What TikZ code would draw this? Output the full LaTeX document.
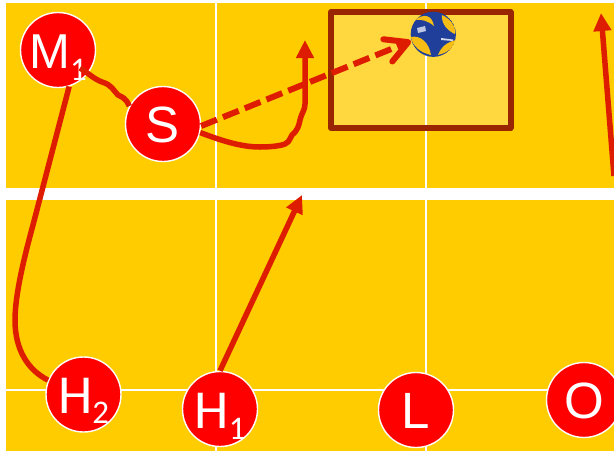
\documentclass[tikz,border=0pt]{standalone}
\usepackage{fontspec}
\setmainfont{Liberation Sans}
\newfontfamily\calib{Carlito}
\usetikzlibrary{arrows.meta}
\definecolor{court}{HTML}{FFCC00}
\definecolor{zone}{HTML}{FFD83F}
\definecolor{zoneedge}{HTML}{992600}
\definecolor{runred}{HTML}{DD1C00}
\definecolor{ballblue}{HTML}{1F3F9A}
\definecolor{ballyellow}{HTML}{F6BE14}
\newcommand{\plainlab}[2]{\raisebox{-#2pt}{\fontsize{51}{51}\selectfont #1}}
\newcommand{\mlab}[3]{\raisebox{-#2pt}{\fontsize{49}{49}\selectfont #1\raisebox{-#3pt}{\calib\fontsize{33}{33}\selectfont 1}}}
\tikzset{
  player/.style={circle,draw=white,line width=1.4pt,fill=red,text=white,minimum size=75pt,inner sep=0pt,text height=0pt,text depth=0pt},
  run/.style={draw=runred,line width=5.5pt,line join=round},
  runarrow/.style={run,-{Triangle[length=18pt,width=17pt]}},
  gridline/.style={draw=white,line width=1.8pt},
  pass/.style={draw=runred,line width=6pt,dash pattern=on 17pt off 6.5pt,-{Straight Barb[length=22pt,width=24pt,line cap=round,round]}}
}
\begin{document}
\begin{tikzpicture}[x=1pt,y=-1pt]
\useasboundingbox (0,0) rectangle (614,451);
\fill[white] (0,0) rectangle (614,451);
\fill[court] (6,3) rectangle (614,188);
\fill[court] (6,200) rectangle (614,451);
\draw[gridline] (216,3) -- (216,188);
\draw[gridline] (426,3) -- (426,188);
\draw[gridline] (216,200) -- (216,451);
\draw[gridline] (426,200) -- (426,451);
\draw[gridline] (6,390) -- (614,390);
% zone
\draw[draw=zoneedge,fill=zone,line width=6pt,line join=round] (331,12) rectangle (510.5,128);
\draw[gridline] (426,15) -- (426,125);
% ball
\begin{scope}
\clip (433.3,34.3) circle (22.6pt);
\fill[ballblue] (433.3,34.3) circle (22.6pt);
\fill[ballyellow] (415,20) .. controls (424,13) and (432,15) .. (434,26) .. controls (428,21) and (422,19) .. (415,20) -- cycle;
\fill[ballyellow] (442,15) .. controls (451,19) and (456,27) .. (455,34) .. controls (448,31) and (441,24) .. (442,15) -- cycle;
\fill[ballyellow] (456,40) .. controls (453,48) and (447,53) .. (438,55) .. controls (441,47) and (447,42) .. (456,40) -- cycle;
\fill[ballyellow] (411,37) .. controls (420,35) and (429,42) .. (431,55) .. controls (421,53) and (412,46) .. (411,37) -- cycle;
\fill[white!70!ballblue] (417,28) -- (425,26) -- (426,31) -- (418,33) -- cycle;
\fill[white!80!ballblue] (441,38) -- (453,39.5) -- (453,41) -- (441,40) -- cycle;
\end{scope}
% players
\node[player] (M) at (58,50) {\mlab{M}{18}{12}};
\node[player] (S) at (163,124) {\plainlab{S}{18}};
\node[player] (H2) at (83.5,394.5) {\raisebox{-19pt}{\calib\fontsize{55}{55}\selectfont H\raisebox{-10pt}{\fontsize{33}{33}\selectfont 2}}};
\node[player] (H1) at (220,409) {\raisebox{-19pt}{\calib\fontsize{55}{55}\selectfont H\raisebox{-11pt}{\fontsize{33}{33}\selectfont 1}}};
\node[player] (L) at (416,410) {\plainlab{L}{18}};
\node[player] (O) at (584,400) {\plainlab{O}{18}};
% free ends
\coordinate (setTarget) at (305,40);
\coordinate (ballTarget) at (411,41);
\coordinate (attackTip) at (302,195);
\coordinate (rightTip) at (601,13);
\coordinate (rightStart) at (614,176);
\coordinate (squiggleStart) at (80,68);
% connectors
\draw[run] (squiggleStart) .. controls (88,73) and (94,79) .. (102,82) .. controls (112,85) and (113,90) .. (118,95) .. controls (122,97) and (126,98) .. (S.152);
\draw[run] (M.-73) -- (33,225) .. controls (24,258) and (15,295) .. (15,320) .. controls (15,350) and (28,370) .. (H2.158);
\draw[runarrow] (S.-13) .. controls (220,140) and (240,147) .. (260,147) .. controls (270,147) and (280,146) .. (285,144) .. controls (291,141) and (289,138) .. (292,135) .. controls (298,130) and (299,125) .. (300,120) .. controls (302,112) and (305,110) .. (305,104) -- (setTarget);
\draw[pass] (S.-3) -- (ballTarget);
\draw[runarrow] (H1.north) -- (attackTip);
\draw[runarrow] (rightStart) -- (rightTip);
\end{tikzpicture}
\end{document}
